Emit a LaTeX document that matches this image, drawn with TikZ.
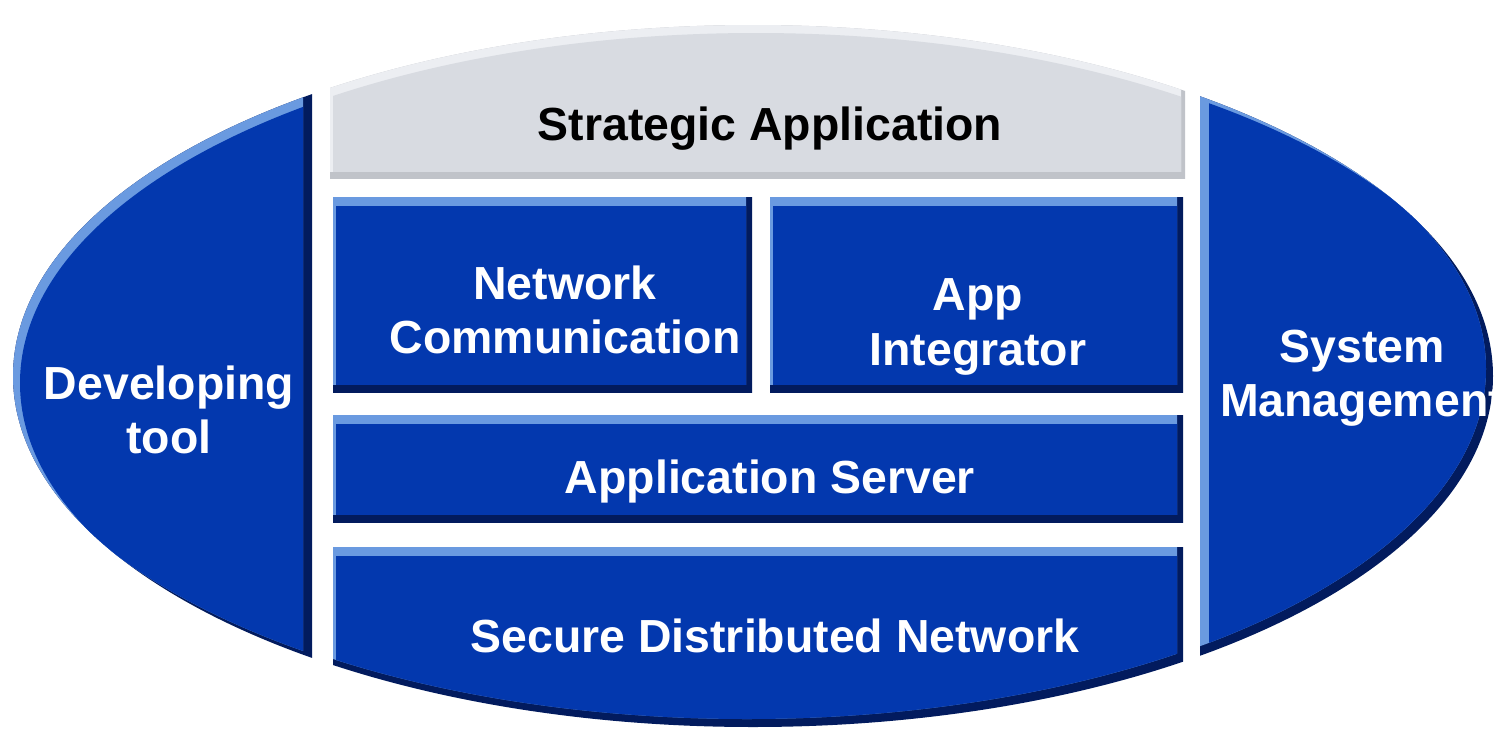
\documentclass[tikz,border=0pt]{standalone}
\usepackage{fontspec}
\setmainfont{Liberation Sans}
\usetikzlibrary{positioning}
\definecolor{tierblue}{HTML}{0338AE}
\definecolor{lightedge}{HTML}{6A9AE0}
\definecolor{darkedge}{HTML}{021B5E}
\definecolor{tiergray}{HTML}{D8DBE1}
\definecolor{lightgray}{HTML}{ECEEF2}
\definecolor{darkgray}{HTML}{C0C3C9}

% piece = oval cut by a rectangle, with a light top-left and a dark bottom-right edge
% #5 = width of the light edge, #6 = width of the dark edge
\newcommand{\tierpiece}[6]{
\begin{scope}
\clip (753,376) ellipse [x radius=740, y radius=351];
\clip #1;
\fill[#2] (-20,-20) rectangle (1520,760);
\begin{scope}
\clip[shift={(#6)}] (753,376) ellipse [x radius=740, y radius=351];
\clip[shift={(#6)}] #1;
\fill[#3] (-20,-20) rectangle (1520,760);
\begin{scope}
\clip[shift={(#5)}] (753,376) ellipse [x radius=740, y radius=351];
\fill[#4,shift={(#5)}] #1;
\end{scope}
\end{scope}
\end{scope}
}

\begin{document}
\begin{tikzpicture}[x=0.01cm,y=-0.01cm,
lbl/.style={text=white,font=\bfseries\fontsize{13.2}{15.5}\selectfont,align=center,inner sep=0pt}]

\useasboundingbox (0,0) rectangle (1502,739);
\fill[white] (0,0) rectangle (1502,739);

\tierpiece{(-10,-10) rectangle (312,800)}{darkedge}{lightedge}{tierblue}{7,7}{-9,-7}
\tierpiece{(1200,-10) rectangle (1600,800)}{darkedge}{lightedge}{tierblue}{9,7}{-7,-7}
\tierpiece{(330,-10) rectangle (1185,178)}{darkgray}{lightgray}{tiergray}{3,8}{-4,-7}
\tierpiece{(333,197) rectangle (752,392)}{darkedge}{lightedge}{tierblue}{3,9}{-6,-8}
\tierpiece{(770,197) rectangle (1183,392)}{darkedge}{lightedge}{tierblue}{3,9}{-6,-8}
\tierpiece{(333,415) rectangle (1183,522)}{darkedge}{lightedge}{tierblue}{3,9}{-6,-8}
\tierpiece{(333,547) rectangle (1183,800)}{darkedge}{lightedge}{tierblue}{3,9}{-6,-8}

\node[lbl,text=black,anchor=base] (strat) at (770,140) {Strategic Application};
\node[lbl] (netcomm) at (565,310) {Network\\Communication};
\node[lbl] (appint) at (978,327) {App\\Integrator};
\node[lbl,anchor=base] (appserv) at (770,493) {Application Server};
\node[lbl,anchor=base] (securenet) at (775,652) {Secure Distributed Network};
\node[lbl] (devtool) at (169,410) {Developing\\tool};
\node[lbl] (sysmgmt) at (1362,378) {System\\Management};
\end{tikzpicture}
\end{document}
